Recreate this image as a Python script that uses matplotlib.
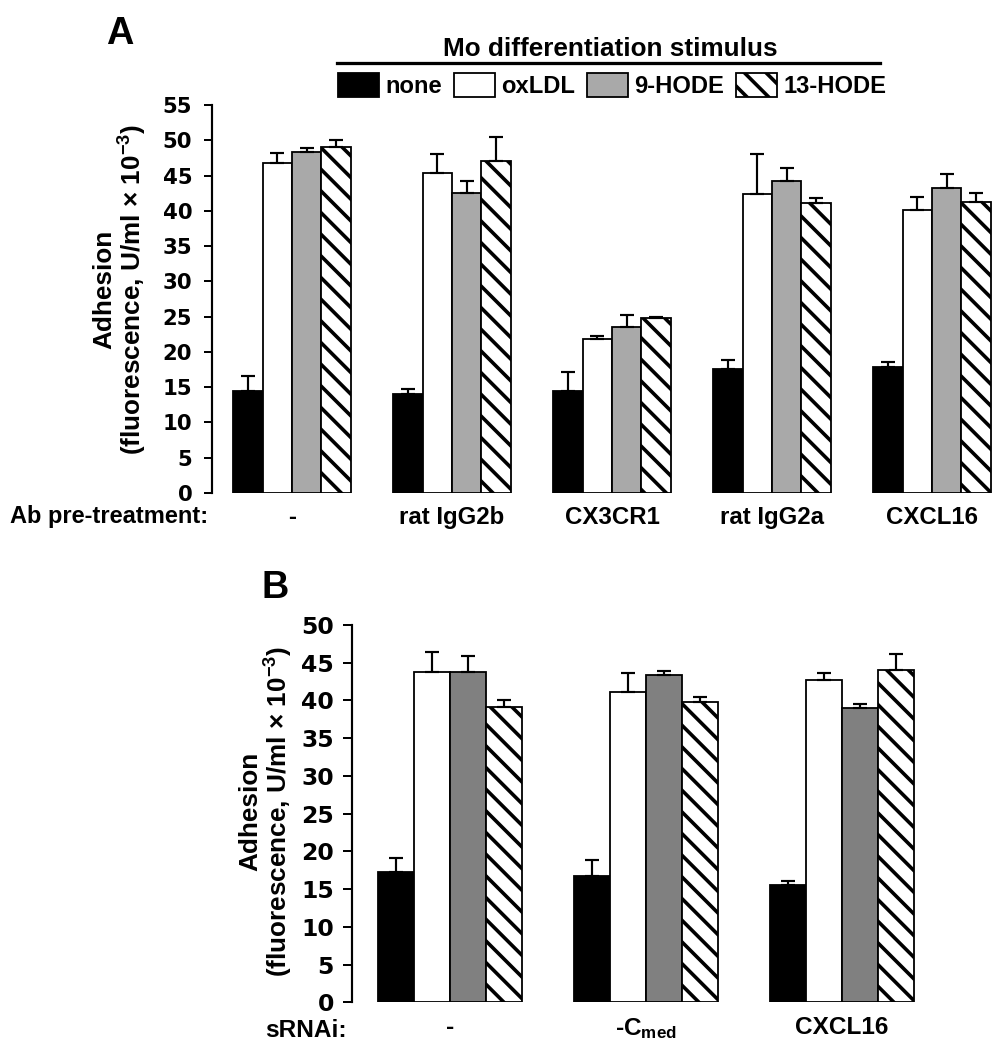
import matplotlib
matplotlib.use('Agg')
import matplotlib.pyplot as plt
import numpy as np
from matplotlib.patches import Patch
from matplotlib.lines import Line2D

plt.rcParams['font.family'] = ['Liberation Sans', 'DejaVu Sans']
plt.rcParams['font.weight'] = 'bold'
plt.rcParams['mathtext.fontset'] = 'custom'
plt.rcParams['mathtext.rm'] = 'Liberation Sans:bold'
plt.rcParams['mathtext.bf'] = 'Liberation Sans:bold'
plt.rcParams['mathtext.it'] = 'Liberation Sans:bold'
plt.rcParams['hatch.linewidth'] = 2.0

# ---------------- data ----------------
series = ['none', 'oxLDL', '9-HODE', '13-HODE']

groups_a = ['-', 'rat IgG2b', 'CX3CR1', 'rat IgG2a', 'CXCL16']
none_a = [14.4, 14.1, 14.5, 17.6, 17.9]
oxldl_a = [46.8, 45.4, 21.9, 42.4, 40.1]
hode9_a = [48.4, 42.5, 23.5, 44.2, 43.3]
hode13_a = [49.1, 47.1, 24.8, 41.1, 41.3]
none_a_err = [2.2, 0.7, 2.6, 1.2, 0.7]
oxldl_a_err = [1.4, 2.6, 0.4, 5.6, 1.9]
hode9_a_err = [0.5, 1.7, 1.8, 1.8, 1.9]
hode13_a_err = [0.9, 3.4, 0.2, 0.7, 1.2]

groups_b = ['-', '-C$_{med}$', 'CXCL16']
none_b = [17.3, 16.8, 15.5]
oxldl_b = [43.8, 41.1, 42.7]
hode9_b = [43.8, 43.4, 39.0]
hode13_b = [39.1, 39.8, 44.1]
none_b_err = [1.8, 2.1, 0.6]
oxldl_b_err = [2.6, 2.5, 0.9]
hode9_b_err = [2.1, 0.5, 0.5]
hode13_b_err = [1.0, 0.6, 2.1]

yticks_a = list(range(0, 56, 5))
yticks_b = list(range(0, 51, 5))

# ---------------- figure ----------------
DPI = 130
W, H = 1008, 1050
fig = plt.figure(figsize=(W / DPI, H / DPI), dpi=DPI)


def fx(px):
    return px / W


def fy(py):
    return 1 - py / H


hatches = [None, None, None, '\\\\']
colors_a = ['black', 'white', '#a9a9a9', 'white']
colors_b = ['black', 'white', '#808080', 'white']


def draw(ax, groups, vals, errs, colors, w):
    x = np.arange(len(groups))
    n = len(groups)
    for k in range(4):
        pos = x + (k - 1.5) * w
        ax.bar(pos, vals[k], w, color=colors[k], edgecolor='black',
               linewidth=1.0, hatch=hatches[k],
               yerr=[np.zeros(n), errs[k]],
               error_kw=dict(ecolor='black', elinewidth=1.2, capsize=4,
                             capthick=1.2))
    ax.set_xticks(x)
    ax.set_xticklabels(groups)
    for s in ['top', 'right', 'bottom']:
        ax.spines[s].set_visible(False)
    ax.spines['left'].set_linewidth(1.2)


# Panel A
ax_a = fig.add_axes([fx(212), fy(493), (996 - 212) / W, (493 - 105) / H])
draw(ax_a, groups_a,
     [none_a, oxldl_a, hode9_a, hode13_a],
     [none_a_err, oxldl_a_err, hode9_a_err, hode13_a_err],
     colors_a, 0.183)
ax_a.set_xlim(-0.5, 4.4)
ax_a.set_ylim(0, 55)
ax_a.set_yticks(yticks_a)
ax_a.tick_params(axis='y', direction='out', length=4.4, width=1.1, pad=6.5,
                 labelsize=11.8)
ax_a.tick_params(axis='x', length=0, pad=7, labelsize=13.3)
for lbl in ax_a.get_yticklabels():
    lbl.set_fontfamily('DejaVu Sans')
    lbl.set_fontweight('bold')

# Panel B
ax_b = fig.add_axes([fx(352), fy(1002.3), 568 / W, (1002.3 - 625) / H])
draw(ax_b, groups_b,
     [none_b, oxldl_b, hode9_b, hode13_b],
     [none_b_err, oxldl_b_err, hode9_b_err, hode13_b_err],
     colors_b, 0.184)
ax_b.set_xlim(-0.5, 2.4)
ax_b.set_ylim(0, 50)
ax_b.set_yticks(yticks_b)
ax_b.tick_params(axis='y', direction='out', length=5, width=1.1, pad=5,
                 labelsize=13)
ax_b.tick_params(axis='x', length=0, pad=7.5, labelsize=13.5)
for lbl in ax_b.get_yticklabels():
    lbl.set_fontfamily('DejaVu Sans')
    lbl.set_fontweight('bold')

# y labels
ylab = 'Adhesion\n(fluorescence, U/ml \u00d7 10$^{-3}$)'
fig.text(fx(120.5), fy(289), ylab, rotation=90, ha='center', va='center',
         ma='center', fontsize=14.5, linespacing=1.0)
fig.text(fx(266.5), fy(811), ylab, rotation=90, ha='center', va='center',
         ma='center', fontsize=14.5, linespacing=1.0)

# row labels
fig.text(fx(208), fy(523), 'Ab pre-treatment:', ha='right', va='baseline',
         fontsize=13.1)
fig.text(fx(347), fy(1037), 'sRNAi:', ha='right', va='baseline',
         fontsize=13.5)

# panel letters
fig.text(fx(106), fy(44), 'A', ha='left', va='baseline', fontsize=21)
fig.text(fx(261), fy(598), 'B', ha='left', va='baseline', fontsize=21)

# header and legend
fig.text(fx(610), fy(56), 'Mo differentiation stimulus', ha='center',
         va='baseline', fontsize=14.5)
fig.add_artist(Line2D([fx(337), fx(880)], [fy(63), fy(63)], color='black',
                      linewidth=1.8, transform=fig.transFigure))
handles = [Patch(facecolor=colors_a[k], edgecolor='black', linewidth=1.0,
                 hatch=hatches[k], label=series[k]) for k in range(4)]
fig.legend(handles=handles, loc='center',
           bbox_to_anchor=(fx(612.5), fy(85.5)), ncol=4, frameon=False,
           fontsize=13.2, handlelength=1.7, handleheight=1.17,
           handletextpad=0.28, columnspacing=0.5, borderpad=0,
           borderaxespad=0)

fig.savefig('out.png', dpi=DPI)
